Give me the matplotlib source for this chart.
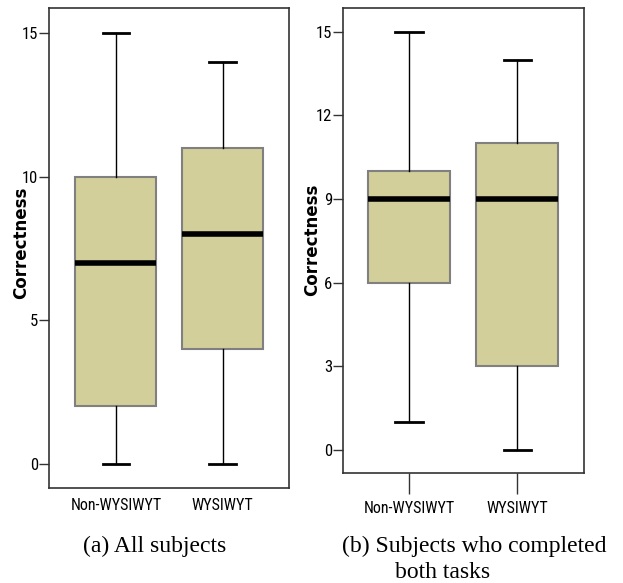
import matplotlib
matplotlib.use("Agg")
import matplotlib.pyplot as plt
from matplotlib import font_manager

groups = ["Non-WYSIWYT", "WYSIWYT"]
# (a) All subjects: min, q1, median, q3, max
a_min = [0, 0]
a_q1 = [2, 4]
a_med = [7, 8]
a_q3 = [10, 11]
a_max = [15, 14]
a_ticks = [0, 5, 10, 15]
# (b) Subjects who completed both tasks
b_min = [1, 0]
b_q1 = [6, 3]
b_med = [9, 9]
b_q3 = [10, 11]
b_max = [15, 14]
b_ticks = [0, 3, 6, 9, 12, 15]

ylabel = "Correctness"
cap_a = "(a) All subjects"
cap_b1 = "(b) Subjects who completed"
cap_b2 = "both tasks"

names = {f.name for f in font_manager.fontManager.ttflist}
serif = "Liberation Serif" if "Liberation Serif" in names else "DejaVu Serif"
narrow_props = dict(family="DejaVu Sans", stretch="condensed")
for cand in ["Liberation Sans Narrow", "Arial Narrow", "Roboto Condensed", "Open Sans Condensed"]:
    if cand in names:
        narrow_props = dict(family=cand)
        break

fig = plt.figure(figsize=(6.23, 5.83), dpi=100)
W, H = 623, 583

def make_stats(mins, q1s, meds, q3s, maxs):
    return [dict(whislo=mn, q1=a, med=m, q3=b, whishi=mx, fliers=[], label=g)
            for g, mn, a, m, b, mx in zip(groups, mins, q1s, meds, q3s, maxs)]

def panel(rect, stats, ticks, xlim, ylim, xticks_visible):
    ax = fig.add_axes(rect)
    ax.bxp(stats, positions=[1, 2], widths=0.76, capwidths=0.25,
           patch_artist=True, showfliers=False,
           boxprops=dict(facecolor="#D3CF9B", edgecolor="#808080", linewidth=1.5),
           medianprops=dict(color="black", linewidth=4.0, solid_capstyle="butt"),
           whiskerprops=dict(color="black", linewidth=1.0),
           capprops=dict(color="black", linewidth=2.0))
    ax.set_xlim(*xlim)
    ax.set_ylim(*ylim)
    ax.set_yticks(ticks)
    ax.set_yticklabels([str(t) for t in ticks], fontsize=12, **narrow_props)
    ax.set_xticks([1, 2])
    ax.set_xticklabels(groups, fontsize=11.5, **narrow_props)
    ax.tick_params(axis="y", length=7, width=1, pad=1, color="#333333")
    if xticks_visible:
        ax.tick_params(axis="x", length=15, width=1, pad=5, color="#333333")
    else:
        ax.tick_params(axis="x", length=0, pad=7)
    for s in ax.spines.values():
        s.set_color("#333333")
        s.set_linewidth(1.2)
    return ax

axa = panel([49 / W, 1 - 488 / H, 240 / W, 480 / H],
            make_stats(a_min, a_q1, a_med, a_q3, a_max), a_ticks,
            (0.374, 2.62), (-0.84, 15.88), False)
axb = panel([343 / W, 1 - 473 / H, 241 / W, 465 / H],
            make_stats(b_min, b_q1, b_med, b_q3, b_max), b_ticks,
            (0.389, 2.62), (-0.82, 15.85), True)

fig.text(21 / W, 1 - 243 / H, ylabel, rotation=90, ha="center", va="center",
         fontsize=12, fontweight="bold", family="DejaVu Sans")
fig.text(312 / W, 1 - 240 / H, ylabel, rotation=90, ha="center", va="center",
         fontsize=12, fontweight="bold", family="DejaVu Sans")

fig.text(155 / W, 1 - 546 / H, cap_a, ha="center", va="center",
         fontsize=17, family=serif)
fig.text(342 / W, 1 - 546 / H, cap_b1, ha="left", va="center",
         fontsize=17, family=serif)
fig.text(395 / W, 1 - 573 / H, cap_b2, ha="left", va="center",
         fontsize=17, family=serif)

fig.savefig("out.png", dpi=100)
